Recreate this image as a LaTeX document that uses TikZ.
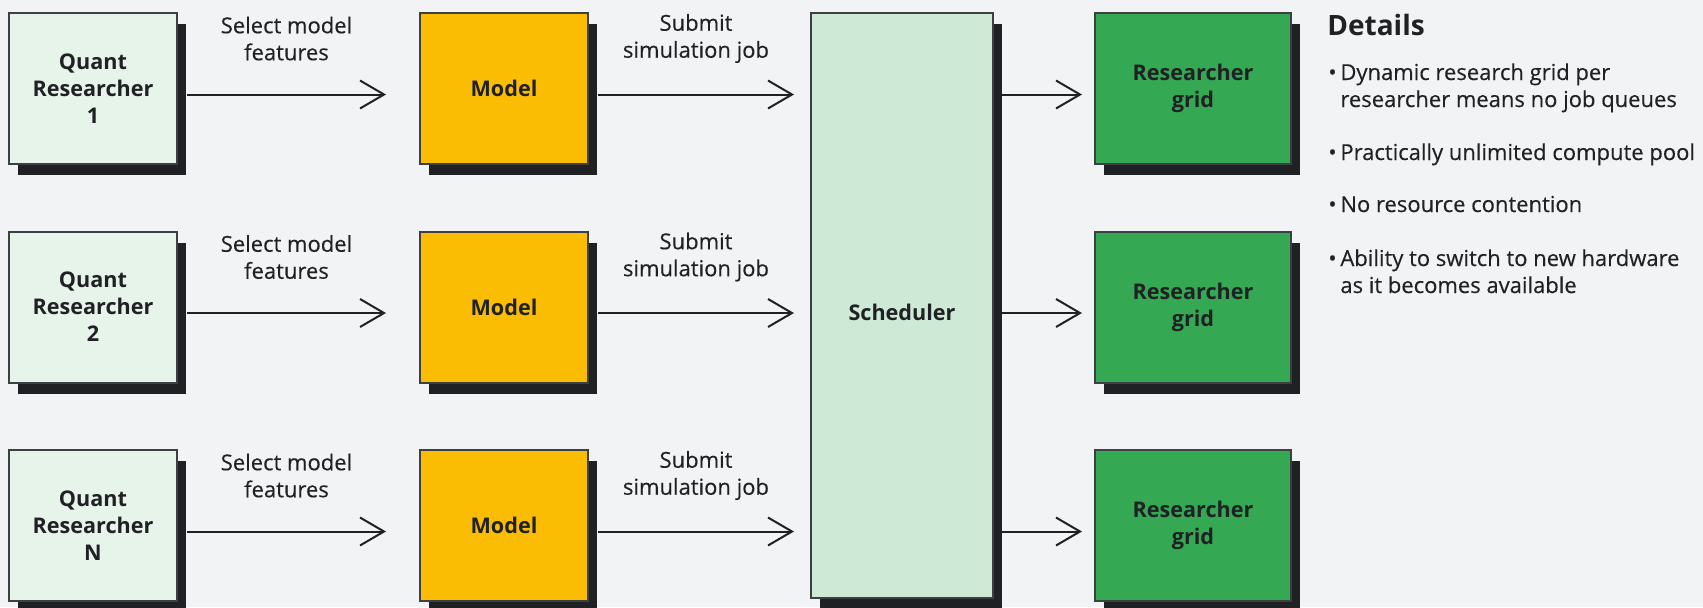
\documentclass[tikz,border=0pt]{standalone}
\usepackage{fontspec}
\setmainfont{Open Sans}
\newfontfamily\medium{Open Sans}[FakeBold=0.3]
\usetikzlibrary{arrows.meta,shadows}

\definecolor{pagebg}{HTML}{F1F3F4}
\definecolor{ink}{HTML}{202124}
\definecolor{edgegray}{HTML}{3C4043}
\definecolor{quantfill}{HTML}{E6F4EA}
\definecolor{modelfill}{HTML}{FBBC04}
\definecolor{schedfill}{HTML}{CEEAD6}
\definecolor{gridfill}{HTML}{34A853}

\tikzset{
  card/.style={draw=edgegray, line width=1pt, align=center, text=ink,
    font=\bfseries\fontsize{10.8}{13.5}\selectfont, inner sep=0pt,
    minimum width=84pt, minimum height=75.5pt,
    general shadow={fill=ink, shadow xshift=4.5pt, shadow yshift=-5.5pt}},
  flow/.style={draw=ink, line width=1pt,
    -{Straight Barb[length=12pt,width=14pt,line width=1pt]}},
  steplabel/.style={font=\medium\fontsize{11}{13.5}\selectfont, align=center,
    text=ink, yshift=28pt},
  note/.style={anchor=base west, align=left, inner sep=0pt, text=ink,
    font=\medium\fontsize{11}{13.5}\selectfont}
}

\begin{document}
\begin{tikzpicture}[x=0.5pt,y=-0.5pt]
\useasboundingbox (0,0) rectangle (1703,607);
\fill[pagebg] (0,0) rectangle (1703,607);

% researchers
\node[card, fill=quantfill] (qr1) at (93,88.5) {Quant\\Researcher\\1};
\node[card, fill=quantfill] (qr2) at (93,307) {Quant\\Researcher\\2};
\node[card, fill=quantfill] (qr3) at (93,525.5) {Quant\\Researcher\\N};

% models
\node[card, fill=modelfill] (m1) at (504,88.5) {Model};
\node[card, fill=modelfill] (m2) at (504,307) {Model};
\node[card, fill=modelfill] (m3) at (504,525.5) {Model};

\node[card, fill=schedfill, minimum width=91pt, minimum height=292.5pt] (sched) at (902,305.5)
  {\raisebox{-3.5pt}[\height][\depth]{Scheduler}};

% grids
\node[card, fill=gridfill, minimum width=98pt] (g1) at (1193,88.5) {Researcher\\grid};
\node[card, fill=gridfill, minimum width=98pt] (g2) at (1193,307) {Researcher\\grid};
\node[card, fill=gridfill, minimum width=98pt] (g3) at (1193,525.5) {Researcher\\grid};

\draw[flow] ([xshift=4.5pt,yshift=-3pt]qr1.east) -- ([xshift=-16.5pt,yshift=-3pt]m1.west)
  node[steplabel, midway] {Select model\\features};
\draw[flow] ([xshift=4.5pt,yshift=-3pt]qr2.east) -- ([xshift=-16.5pt,yshift=-3pt]m2.west)
  node[steplabel, midway] {Select model\\features};
\draw[flow] ([xshift=4.5pt,yshift=-3pt]qr3.east) -- ([xshift=-16.5pt,yshift=-3pt]m3.west)
  node[steplabel, midway] {Select model\\features};

\draw[flow] ([xshift=4.5pt,yshift=-3pt]m1.east) -- ([xshift=-8pt,yshift=-3pt]m1.east -| sched.west)
  node[steplabel, midway] {Submit\\simulation job};
\draw[flow] ([xshift=4.5pt,yshift=-3pt]m2.east) -- ([xshift=-8pt,yshift=-3pt]m2.east -| sched.west)
  node[steplabel, midway] {Submit\\simulation job};
\draw[flow] ([xshift=4.5pt,yshift=-3pt]m3.east) -- ([xshift=-8pt,yshift=-3pt]m3.east -| sched.west)
  node[steplabel, midway] {Submit\\simulation job};

\draw[flow] ([xshift=4pt,yshift=-3pt]g1.west -| sched.east) -- ([xshift=-6pt,yshift=-3pt]g1.west);
\draw[flow] ([xshift=4pt,yshift=-3pt]g2.west -| sched.east) -- ([xshift=-6pt,yshift=-3pt]g2.west);
\draw[flow] ([xshift=4pt,yshift=-3pt]g3.west -| sched.east) -- ([xshift=-6pt,yshift=-3pt]g3.west);

% details (base of a two-line note is its last line)
\node[anchor=base west, inner sep=0pt, text=ink, font=\bfseries\fontsize{14}{17}\selectfont] (dhead) at (1327,35) {Details};
\node[note] (d1) at (1340,107) {Dynamic research grid per\\researcher means no job queues};
\node[note] (d2) at (1340,160) {Practically unlimited compute pool};
\node[note] (d3) at (1340,212) {No resource contention};
\node[note] (d4) at (1340,293) {Ability to switch to new hardware\\as it becomes available};
\node[note, anchor=base east] (b1) at (1337,80) {•};
\node[note, anchor=base east] (b2) at (1337,160) {•};
\node[note, anchor=base east] (b3) at (1337,212) {•};
\node[note, anchor=base east] (b4) at (1337,266) {•};
\end{tikzpicture}
\end{document}
